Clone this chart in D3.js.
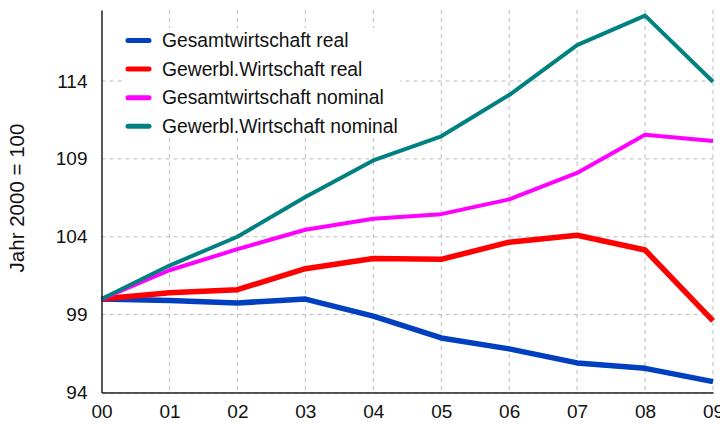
<!DOCTYPE html>
<html>
<head>
<meta charset="utf-8">
<script src="https://cdn.jsdelivr.net/npm/d3@7"></script>
<style>
  body { margin: 0; background: #fff; }
  text { font-family: "Liberation Sans", Arial, sans-serif; fill: #111; }
</style>
</head>
<body>
<div class="chart"></div>
<script>
var svgWidth = 720;
var svgHeight = 425;

var margin = { top: 10, right: 7, bottom: 32.5, left: 101.5 };
var width = svgWidth - margin.left - margin.right;
var height = svgHeight - margin.top - margin.bottom;

// Daten (Jahr 2000 = 100)
var years = ["00", "01", "02", "03", "04", "05", "06", "07", "08", "09"];
var gesamtReal = [100, 99.9, 99.75, 100.0, 98.9, 97.5, 96.8, 95.9, 95.55, 94.7];
var gewerbReal = [100, 100.4, 100.6, 101.95, 102.6, 102.55, 103.65, 104.1, 103.15, 98.6];
var gesamtNominal = [100, 101.85, 103.2, 104.45, 105.15, 105.45, 106.4, 108.1, 110.55, 110.15];
var gewerbNominal = [100, 102.15, 104.0, 106.55, 108.9, 110.45, 113.1, 116.3, 118.2, 113.95];
var yTicks = [94, 99, 104, 109, 114];

var series = [
  { name: "Gesamtwirtschaft real", values: gesamtReal, color: "#0040c0", width: 5.5 },
  { name: "Gewerbl.Wirtschaft real", values: gewerbReal, color: "#ff0000", width: 5.5 },
  { name: "Gesamtwirtschaft nominal", values: gesamtNominal, color: "#ff00ff", width: 4 },
  { name: "Gewerbl.Wirtschaft nominal", values: gewerbNominal, color: "#008080", width: 4 }
];

var svg = d3.select(".chart")
  .append("svg")
  .attr("width", svgWidth)
  .attr("height", svgHeight);

var chartGroup = svg.append("g")
  .attr("transform", `translate(${margin.left}, ${margin.top})`);

var x = d3.scalePoint().domain(years).range([0, width]);
var y = d3.scaleLinear().domain([94, 94 + height / 15.575]).range([height, 0]);

// Gitterlinien
chartGroup.append("g")
  .selectAll("line.h")
  .data(yTicks)
  .enter()
  .append("line")
  .attr("x1", 0).attr("x2", width)
  .attr("y1", d => y(d)).attr("y2", d => y(d))
  .attr("stroke", "#bbb").attr("stroke-dasharray", "4,4");

chartGroup.append("g")
  .selectAll("line.v")
  .data(years.slice(1))
  .enter()
  .append("line")
  .attr("x1", d => x(d)).attr("x2", d => x(d))
  .attr("y1", 0).attr("y2", height)
  .attr("stroke", "#bbb").attr("stroke-dasharray", "4,4");

// Legende (weisser Hintergrund verdeckt Gitter)
var legend = chartGroup.append("g")
  .attr("transform", `translate(${123 - margin.left}, ${28 - margin.top})`);

legend.append("rect")
  .attr("width", 277).attr("height", 108)
  .attr("fill", "#fff");

var lineGen = d3.line()
  .x((d, i) => x(years[i]))
  .y(d => y(d));

chartGroup.selectAll("path.series")
  .data(series)
  .enter()
  .append("path")
  .attr("fill", "none")
  .attr("stroke", d => d.color)
  .attr("stroke-width", d => d.width)
  .attr("stroke-linejoin", "round")
  .attr("d", d => lineGen(d.values));

var items = legend.selectAll("g.item")
  .data(series)
  .enter()
  .append("g")
  .attr("transform", (d, i) => `translate(0, ${12.5 + i * 28.6})`);

items.append("line")
  .attr("x1", 5).attr("x2", 26)
  .attr("stroke", d => d.color)
  .attr("stroke-width", 5)
  .attr("stroke-linecap", "round");

items.append("text")
  .attr("x", 39)
  .attr("dy", "0.35em")
  .style("font-size", "19.3px")
  .text(d => d.name);

// Achsen
var bottomAxis = d3.axisBottom(x).tickSize(0).tickPadding(12);
var leftAxis = d3.axisLeft(y).tickValues(yTicks).tickSize(0).tickPadding(14);

var xAxisG = chartGroup.append("g")
  .attr("transform", `translate(0, ${height})`)
  .call(bottomAxis);
var yAxisG = chartGroup.append("g").call(leftAxis);

[xAxisG, yAxisG].forEach(function(g) {
  g.select(".domain").attr("stroke", "#222").attr("stroke-width", 1.5);
  g.selectAll("text").style("font-size", "19px").style("font-family", "Liberation Sans, Arial, sans-serif").attr("fill", "#111");
});

chartGroup.append("text")
  .attr("transform", "rotate(-90)")
  .attr("x", 0 - (198 - margin.top))
  .attr("y", 17 - margin.left)
  .attr("dy", "0.35em")
  .attr("text-anchor", "middle")
  .style("font-size", "20.5px")
  .text("Jahr 2000 = 100");
</script>
</body>
</html>
